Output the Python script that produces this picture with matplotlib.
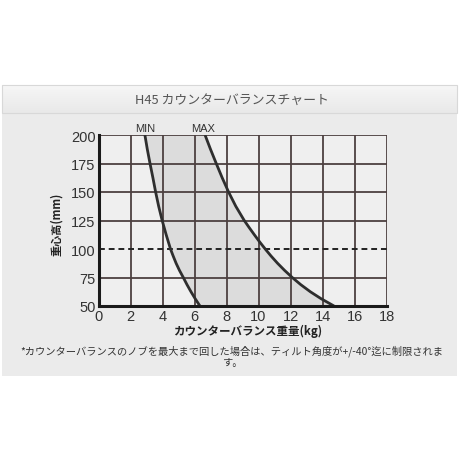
import matplotlib
matplotlib.use("Agg")
import matplotlib.pyplot as plt
from matplotlib.patches import Rectangle

# ---- data ----
height_min = [200, 187.5, 175, 162.5, 150, 137.5, 125, 112.5, 100, 93.75, 87.5, 81.25,
              75, 68.75, 62.5, 56.25, 50]
weight_min = [2.90, 3.05, 3.22, 3.40, 3.57, 3.76, 3.98, 4.23, 4.50, 4.67, 4.85, 5.06,
              5.30, 5.53, 5.78, 6.05, 6.34]
height_max = [200, 187.5, 175, 162.5, 150, 137.5, 125, 118.75, 112.5, 106.25, 100, 93.75,
              87.5, 81.25, 75, 68.75, 62.5, 56.25, 50]
weight_max = [6.66, 7.00, 7.36, 7.73, 8.13, 8.58, 9.11, 9.42, 9.74, 10.07, 10.42, 10.79,
              11.19, 11.63, 12.11, 12.64, 13.24, 13.93, 14.72]
x_ticks = [0, 2, 4, 6, 8, 10, 12, 14, 16, 18]
y_ticks = [50, 75, 100, 125, 150, 175, 200]
ref_height = 100
title = "H45 カウンターバランスチャート"
xlabel = "カウンターバランス重量(kg)"
ylabel = "重心高(mm)"
note_lines = ["*カウンターバランスのノブを最大まで回した場合は、ティルト角度が+/-40°迄に制限されま", "す。"]

JP = ["Noto Sans CJK JP", "DejaVu Sans"]
NUM = ["Liberation Sans", "DejaVu Sans"]

fig = plt.figure(figsize=(4.6, 4.6), dpi=100)
fig.patch.set_facecolor("white")

W, H = 460.0, 460.0
def fx(px): return px / W
def fy(py): return 1 - py / H

# panel body
fig.patches.append(Rectangle((fx(2), fy(377)), fx(455), (377 - 114) / H,
                             transform=fig.transFigure, facecolor="#ebebeb",
                             edgecolor="none", zorder=0))
# header bar (simple gradient by stacked rects)
n = 28
for i in range(n):
    t = i / (n - 1)
    c = 0.965 - 0.055 * t
    fig.patches.append(Rectangle((fx(2), fy(86 + i + 1)), fx(455), 1 / H,
                                 transform=fig.transFigure, facecolor=(c, c, c),
                                 edgecolor="none", zorder=0))
fig.patches.append(Rectangle((fx(2), fy(114)), fx(455), 28 / H,
                             transform=fig.transFigure, facecolor="none",
                             edgecolor="#d8d8d8", lw=0.8, zorder=1))
fig.text(fx(232), fy(100), title, ha="center", va="center", fontsize=9.3,
         color="#555555", family=JP)

ax = fig.add_axes([fx(98.5), fy(307), 288 / W, 171 / H])
ax.set_zorder(5)
ax.set_facecolor("#efefef")
ax.set_xlim(0, 18)
ax.set_ylim(50, 200)

poly_x = weight_min + weight_max[::-1]
poly_y = height_min + height_max[::-1]
ax.fill(poly_x, poly_y, color="#dcdcdc", zorder=1, lw=0)
for xv in x_ticks:
    ax.axvline(xv, color="#4d4040", lw=1.3, zorder=2)
for yv in y_ticks:
    if yv != ref_height:
        ax.axhline(yv, color="#4d4040", lw=1.3, zorder=2)
ax.axhline(ref_height, color="#222222", lw=1.4, ls=(0, (3, 2)), zorder=3)

ax.plot(weight_min, height_min, color="#2e2e2e", lw=2.0, zorder=4,
        solid_capstyle="butt", solid_joinstyle="round")
ax.plot(weight_max, height_max, color="#2e2e2e", lw=2.0, zorder=4,
        solid_capstyle="butt", solid_joinstyle="round")

ax.text(weight_min[0], 201.5, "MIN", ha="center", va="bottom", fontsize=8,
        color="#333333", family=NUM)
ax.text(weight_max[0] - 0.1, 201.5, "MAX", ha="center", va="bottom", fontsize=8,
        color="#333333", family=NUM)

for s in ["top", "right"]:
    ax.spines[s].set_visible(False)
for s in ["left", "bottom"]:
    ax.spines[s].set_color("#1a1a1a")
    ax.spines[s].set_linewidth(2.2)
    ax.spines[s].set_zorder(5)

ax.set_xticks(x_ticks)
ax.set_yticks(y_ticks)
ax.set_xticklabels([str(v) for v in x_ticks], family=NUM, fontsize=10.5, color="#333333")
ax.set_yticklabels([str(v) for v in y_ticks], family=NUM, fontsize=10.5, color="#333333")
ax.tick_params(length=0, pad=2)

fig.text(fx(248), fy(331), xlabel, ha="center", va="center", fontsize=8.3,
         fontweight="bold", color="#222222", family=JP)
fig.text(fx(57), fy(224), ylabel, ha="center", va="center", fontsize=8,
         fontweight="bold", color="#222222", family=JP, rotation=90)

fig.text(fx(232), fy(351), note_lines[0], ha="center", va="center", fontsize=7.4,
         color="#333333", family=JP)
fig.text(fx(232), fy(363), note_lines[1], ha="center", va="center", fontsize=7.4,
         color="#333333", family=JP)

fig.savefig("out.png", dpi=100)
